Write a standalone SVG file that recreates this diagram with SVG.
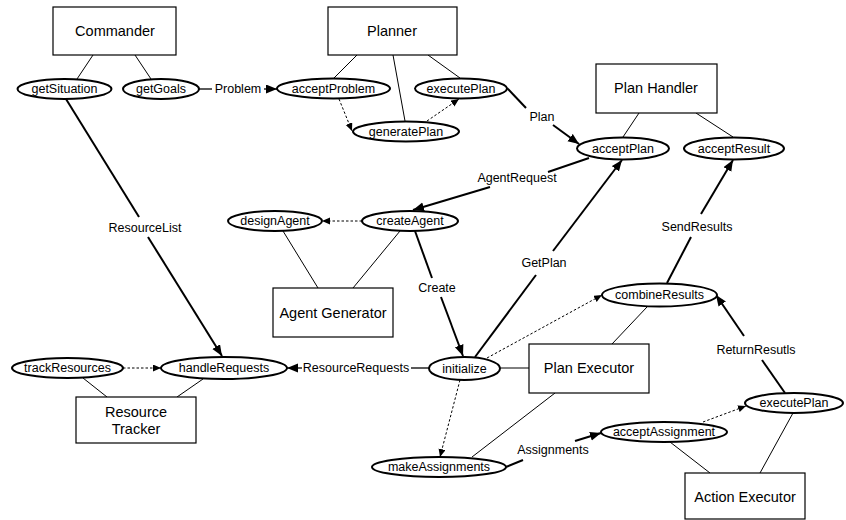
<svg xmlns="http://www.w3.org/2000/svg" width="846" height="520" viewBox="0 0 846 520">
<style>
text{font-family:"Liberation Sans",Arial,sans-serif;fill:#000;text-anchor:middle;dominant-baseline:central}
.box rect{fill:#fff;stroke:#000;stroke-width:1.2}
.box text{font-size:14.5px}
.op ellipse{fill:#fff;stroke:#000;stroke-width:2}
.op text{font-size:12.5px}
.lbl{font-size:12.5px}
.thin{stroke:#000;stroke-width:1;fill:none}
.msg{stroke:#000;stroke-width:2;fill:none}
.msg1{stroke:#000;stroke-width:1.3;fill:none}
.dash{stroke:#000;stroke-width:1;stroke-dasharray:2.5,2;fill:none}
</style>
<defs>
<marker id="ah" markerUnits="userSpaceOnUse" markerWidth="12" markerHeight="10" refX="11" refY="4.5" orient="auto"><path d="M0,0 L11,4.5 L0,9 z" fill="#000"/></marker>
<marker id="as" markerUnits="userSpaceOnUse" markerWidth="9" markerHeight="8" refX="8" refY="3.5" orient="auto"><path d="M0,0 L8,3.5 L0,7 z" fill="#000"/></marker>
</defs>
<rect width="846" height="520" fill="#fff"/>
<g id="connectors">
<line class="thin" x1="93" y1="55" x2="77" y2="79"/>
<line class="thin" x1="135" y1="55" x2="151" y2="79"/>
<line class="thin" x1="357" y1="55" x2="333" y2="79"/>
<line class="thin" x1="393" y1="55" x2="405" y2="121"/>
<line class="thin" x1="428" y1="55" x2="460" y2="78"/>
<line class="thin" x1="639" y1="113" x2="623" y2="137"/>
<line class="thin" x1="696" y1="113" x2="733" y2="137"/>
<line class="thin" x1="283" y1="231" x2="318" y2="288"/>
<line class="thin" x1="400" y1="231" x2="353" y2="288"/>
<line class="thin" x1="83" y1="378" x2="107" y2="397"/>
<line class="thin" x1="203" y1="379" x2="177" y2="397"/>
<line class="thin" x1="500" y1="368" x2="529" y2="368"/>
<line class="thin" x1="647" y1="307" x2="612" y2="344"/>
<line class="thin" x1="555" y1="393" x2="472" y2="457"/>
<line class="thin" x1="670" y1="442" x2="710" y2="473"/>
<line class="thin" x1="793" y1="413" x2="760" y2="473"/>
<line class="dash" x1="339" y1="99" x2="352" y2="131" marker-end="url(#as)"/>
<line class="dash" x1="427" y1="121" x2="459" y2="99" marker-end="url(#as)"/>
<line class="dash" x1="362" y1="221" x2="322" y2="221" marker-end="url(#as)"/>
<line class="dash" x1="123" y1="368" x2="161" y2="368" marker-end="url(#as)"/>
<line class="dash" x1="487" y1="358" x2="602" y2="295" marker-end="url(#as)"/>
<line class="dash" x1="460" y1="380" x2="440" y2="457" marker-end="url(#as)"/>
<line class="dash" x1="703" y1="422" x2="746" y2="406" marker-end="url(#as)"/>
<line class="msg1" x1="199" y1="89" x2="212" y2="89"/>
<line class="msg1" x1="264" y1="89" x2="277" y2="89" marker-end="url(#ah)"/>
<text class="lbl" x="238" y="89">Problem</text>
<line class="msg" x1="507" y1="88" x2="526" y2="108"/>
<line class="msg" x1="553" y1="125" x2="579" y2="144" marker-end="url(#ah)"/>
<text class="lbl" x="542" y="117">Plan</text>
<line class="msg" x1="589" y1="158" x2="548" y2="172"/>
<line class="msg" x1="490" y1="187" x2="413" y2="210" marker-end="url(#ah)"/>
<text class="lbl" x="517" y="178">AgentRequest</text>
<line class="msg" x1="415" y1="231" x2="432" y2="278"/>
<line class="msg" x1="441" y1="297" x2="463" y2="356" marker-end="url(#ah)"/>
<text class="lbl" x="437" y="288">Create</text>
<line class="msg" x1="475" y1="357" x2="536" y2="275"/>
<line class="msg" x1="553" y1="251" x2="622" y2="160" marker-end="url(#ah)"/>
<text class="lbl" x="544" y="263">GetPlan</text>
<line class="msg" x1="667" y1="283" x2="691" y2="237"/>
<line class="msg" x1="701" y1="214" x2="733" y2="160" marker-end="url(#ah)"/>
<text class="lbl" x="697" y="227">SendResults</text>
<line class="msg" x1="785" y1="393" x2="762" y2="360"/>
<line class="msg" x1="744" y1="336" x2="716" y2="295" marker-end="url(#ah)"/>
<text class="lbl" x="756" y="350">ReturnResutls</text>
<line class="msg" x1="66" y1="99" x2="139" y2="217"/>
<line class="msg" x1="148" y1="237" x2="222" y2="356" marker-end="url(#ah)"/>
<text class="lbl" x="145" y="228">ResourceList</text>
<line class="msg1" x1="429" y1="368" x2="411" y2="368"/>
<line class="msg1" x1="302" y1="368" x2="287" y2="368" marker-end="url(#ah)"/>
<text class="lbl" x="356" y="368">ResourceRequests</text>
<line class="msg" x1="506" y1="467" x2="523" y2="460"/>
<line class="msg" x1="575" y1="441" x2="601" y2="433" marker-end="url(#ah)"/>
<text class="lbl" x="553" y="450">Assignments</text>
</g>
<g id="commander" class="box"><rect x="53" y="7" width="123" height="48"/><text x="115" y="31">Commander</text></g>
<g id="planner" class="box"><rect x="328" y="7" width="129" height="48"/><text x="392" y="31">Planner</text></g>
<g id="plan-handler" class="box"><rect x="596" y="64" width="121" height="49"/><text x="656" y="88">Plan Handler</text></g>
<g id="agent-generator" class="box"><rect x="273" y="288" width="120" height="49"/><text x="333" y="313">Agent Generator</text></g>
<g id="plan-executor" class="box"><rect x="529" y="344" width="120" height="49"/><text x="589" y="368">Plan Executor</text></g>
<g id="resource-tracker" class="box"><rect x="76" y="397" width="120" height="46"/><text x="136" y="412">Resource</text><text x="136" y="429">Tracker</text></g>
<g id="action-executor" class="box"><rect x="685" y="473" width="120" height="46"/><text x="745" y="497">Action Executor</text></g>
<g id="getSituation" class="op"><ellipse cx="64.5" cy="89" rx="47" ry="10"/><text x="64.5" y="89">getSituation</text></g>
<g id="getGoals" class="op"><ellipse cx="161" cy="89" rx="38" ry="10"/><text x="161" y="89">getGoals</text></g>
<g id="acceptProblem" class="op"><ellipse cx="333.5" cy="88.5" rx="56.5" ry="10"/><text x="333.5" y="88.5">acceptProblem</text></g>
<g id="executePlan1" class="op"><ellipse cx="461" cy="88.5" rx="46" ry="10"/><text x="461" y="88.5">executePlan</text></g>
<g id="generatePlan" class="op"><ellipse cx="406" cy="131.5" rx="53" ry="10"/><text x="406" y="131.5">generatePlan</text></g>
<g id="acceptPlan" class="op"><ellipse cx="623" cy="148.5" rx="46" ry="11"/><text x="623" y="148.5">acceptPlan</text></g>
<g id="acceptResult" class="op"><ellipse cx="734" cy="148.5" rx="50" ry="11"/><text x="734" y="148.5">acceptResult</text></g>
<g id="designAgent" class="op"><ellipse cx="275" cy="221" rx="47" ry="10"/><text x="275" y="221">designAgent</text></g>
<g id="createAgent" class="op"><ellipse cx="410" cy="221" rx="48" ry="10"/><text x="410" y="221">createAgent</text></g>
<g id="combineResults" class="op"><ellipse cx="659.5" cy="295" rx="57.5" ry="11.5"/><text x="659.5" y="295">combineResults</text></g>
<g id="trackResources" class="op"><ellipse cx="67.5" cy="368" rx="55.5" ry="10"/><text x="67.5" y="368">trackResources</text></g>
<g id="handleRequests" class="op"><ellipse cx="224" cy="368" rx="63" ry="11"/><text x="224" y="368">handleRequests</text></g>
<g id="initialize" class="op"><ellipse cx="464.5" cy="368.5" rx="35.5" ry="11.5"/><text x="464.5" y="368.5">initialize</text></g>
<g id="executePlan2" class="op"><ellipse cx="794" cy="403" rx="49" ry="10"/><text x="794" y="403">executePlan</text></g>
<g id="acceptAssignment" class="op"><ellipse cx="664" cy="432" rx="63" ry="10"/><text x="664" y="432">acceptAssignment</text></g>
<g id="makeAssignments" class="op"><ellipse cx="439" cy="467" rx="67" ry="10"/><text x="439" y="467">makeAssignments</text></g>
</svg>
